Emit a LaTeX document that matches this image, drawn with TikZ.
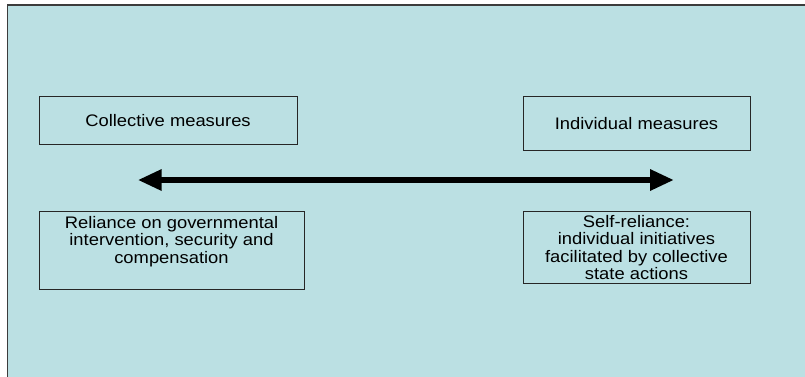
\documentclass[tikz,border=0pt]{standalone}
\usepackage{fontspec}
\setmainfont{Liberation Sans}[FakeStretch=1.1]
\usetikzlibrary{arrows.meta}
\definecolor{bgblue}{RGB}{187,224,227}
\definecolor{frame}{RGB}{60,60,60}
\tikzset{
  box/.style={draw=black!85, line width=1pt, rectangle, inner sep=0pt},
  txt/.style={align=center, inner sep=0pt, font=\fontsize{16.7}{17.5}\selectfont},
  bigarrow/.style={line width=6.5pt, {Triangle[length=24pt,width=20pt]}-{Triangle[length=24pt,width=20pt]}}
}
\begin{document}
\begin{tikzpicture}[x=1pt,y=1pt]
\useasboundingbox (0,0) rectangle (805,-376);
\fill[white] (0,0) rectangle (805,-376);
\begin{scope}
\clip (0,0) rectangle (805,-376);
\fill[black!45] (9,-7) rectangle (815,-390);
\filldraw[fill=bgblue, draw=frame, line width=1.5pt] (7.3,-5) rectangle (813,-388);
\end{scope}
% boxes
\node[box, minimum width=258pt, minimum height=48pt] (coll) at (168,-120) {};
\node[txt] (collT) at (168,-121) {Collective measures};
\node[box, minimum width=227pt, minimum height=54pt] (indiv) at (636.5,-123) {};
\node[txt] (indivT) at (636.5,-124) {Individual measures};
\node[box, minimum width=265pt, minimum height=78pt] (rel) at (171.5,-250) {};
\node[txt] (relT) at (171.5,-241.5) {Reliance on governmental\\intervention, security and\\compensation};
\node[box, minimum width=227pt, minimum height=72pt] (self) at (636.5,-247) {};
\node[txt] (selfT) at (636.5,-247.5) {Self-reliance:\\individual initiatives\\facilitated by collective\\state actions};
% arrow
\coordinate (L) at (137.7,-180);
\coordinate (R) at (674,-180);
\draw[bigarrow] (L) -- (R);
\end{tikzpicture}
\end{document}
